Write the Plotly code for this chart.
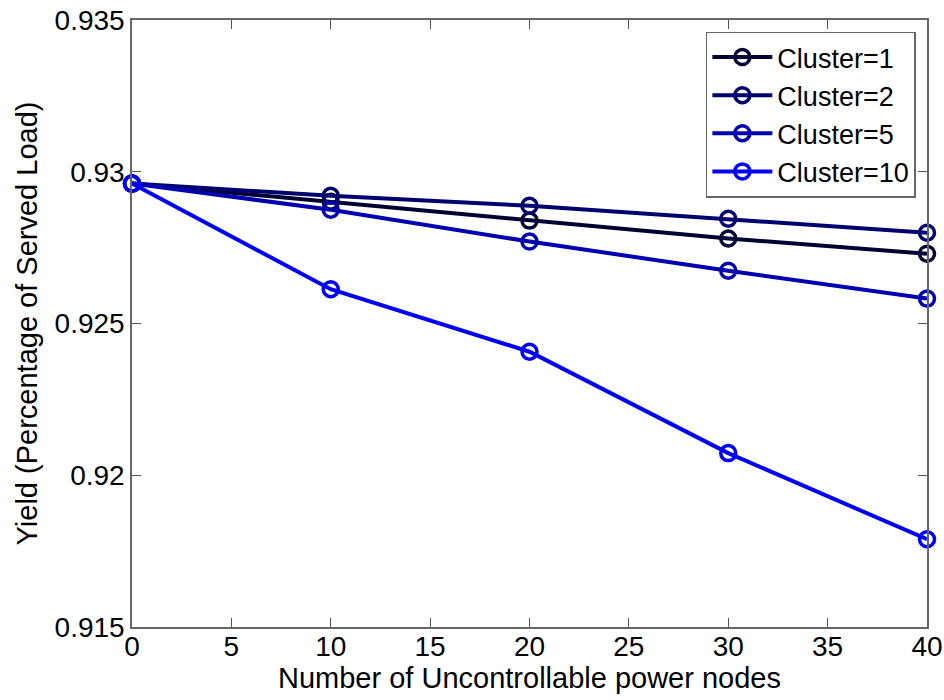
import plotly.graph_objects as go

nodes = [0, 10, 20, 30, 40]
cluster_1 = [0.92961, 0.92901, 0.92839, 0.92780, 0.92730]
cluster_2 = [0.92961, 0.92921, 0.92888, 0.92845, 0.92799]
cluster_5 = [0.92961, 0.92875, 0.92770, 0.92674, 0.92582]
cluster_10 = [0.92961, 0.92613, 0.92407, 0.92073, 0.91789]

names = ["Cluster=1", "Cluster=2", "Cluster=5", "Cluster=10"]
series = [cluster_1, cluster_2, cluster_5, cluster_10]
colors = ["#000033", "#00006e", "#0000b0", "#0000f5"]

x_ticks = [0, 5, 10, 15, 20, 25, 30, 35, 40]
y_ticks = [0.915, 0.92, 0.925, 0.93, 0.935]
y_tick_text = ["0.915", "0.92", "0.925", "0.93", "0.935"]

FONT = "Arial, Liberation Sans, sans-serif"

fig = go.Figure()
for name, ys, c in zip(names, series, colors):
    fig.add_trace(go.Scatter(
        x=nodes, y=ys, name=name, mode="lines+markers",
        line=dict(color=c, width=4),
        marker=dict(symbol="circle-open", size=15, color=c, line=dict(width=3.5, color=c)),
        cliponaxis=False,
    ))

axis_common = dict(
    showline=True, linecolor="#666666", linewidth=1.5, mirror="ticks",
    ticks="inside", ticklen=9, tickwidth=1.2, tickcolor="#555555",
    showgrid=False, zeroline=False, automargin=False,
    tickfont=dict(family=FONT, size=28, color="#000000"),
)

fig.update_xaxes(
    range=[0, 40], tickvals=x_ticks, ticklabelstandoff=-6,
    title=dict(text="Number of Uncontrollable power nodes",
               font=dict(family=FONT, size=29, color="#000000"), standoff=2),
    **axis_common,
)
fig.update_yaxes(
    range=[0.915, 0.935], tickvals=y_ticks, ticktext=y_tick_text,
    title=dict(text="Yield (Percentage of Served Load)",
               font=dict(family=FONT, size=29, color="#000000"), standoff=8),
    **axis_common,
)

fig.update_layout(
    width=944, height=700,
    margin=dict(l=132, r=17, t=20, b=73),
    paper_bgcolor="white", plot_bgcolor="white",
    showlegend=True,
    legend=dict(
        x=0.986, y=0.981, xanchor="right", yanchor="top",
        bgcolor="white", bordercolor="#666666", borderwidth=1.5,
        font=dict(family=FONT, size=27, color="#000000"),
        tracegroupgap=0, itemwidth=60,
    ),
)

fig.write_html("out.html")
